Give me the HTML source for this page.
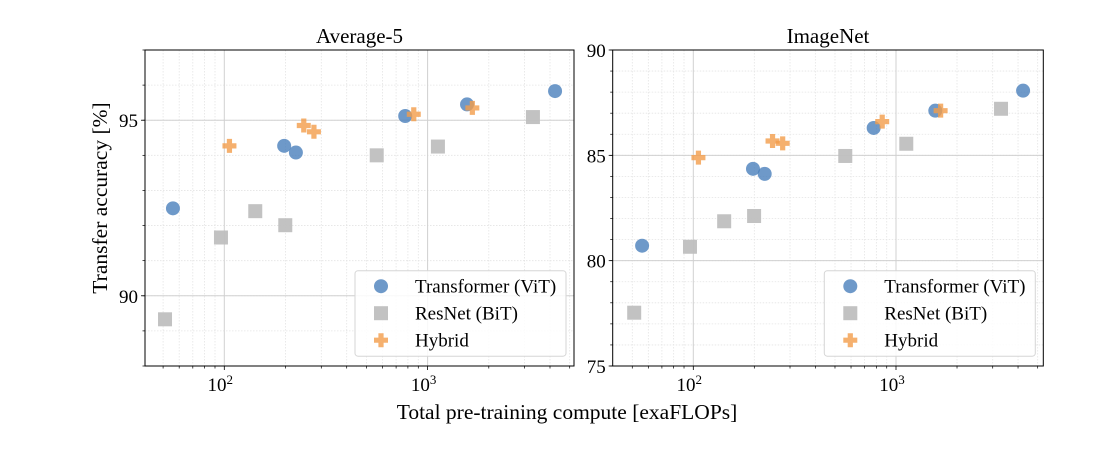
<!DOCTYPE html>
<html><head><meta charset="utf-8"><style>
body{margin:0;background:#fff}
svg{display:block;font-family:"Liberation Serif","DejaVu Serif",serif}
</style></head><body>
<svg id="c" width="1102" height="450" viewBox="0 0 1102 450"></svg>
<script>
const vitX=[55.9,197,225,776,1563,4236];
const vitAvg=[92.49,94.27,94.08,95.12,95.45,95.83];
const vitIN=[80.71,84.36,84.12,86.30,87.12,88.07];
const resX=[51.1,96.3,142,199.5,562,1124,3297];
const resAvg=[89.33,91.66,92.41,92.01,94.00,94.25,95.09];
const resIN=[77.53,80.66,81.87,82.12,84.97,85.55,87.21];
const hybX=[106,246,276,855,1660];
const hybAvg=[94.27,94.85,94.67,95.17,95.35];
const hybIN=[84.89,85.68,85.57,86.60,87.12];
const panelTitles=["Average-5","ImageNet"];
const avgTicks=[90,95];
const inTicks=[75,80,85,90];
const legendLabels=["Transformer (ViT)","ResNet (BiT)","Hybrid"];

const NS="http://www.w3.org/2000/svg";
const svg=document.getElementById('c');
function el(t,a,p){const e=document.createElementNS(NS,t);for(const k in a)e.setAttribute(k,a[k]);(p||svg).appendChild(e);return e;}
function txt(s,a,p){const e=el('text',a,p);e.textContent=s;return e;}

const panels=[
 {x0:145,x1:574,y0:50,y1:366,d2:224.3,dec:203.3,ymin:88,ymax:97,ticks:avgTicks,vit:vitAvg,res:resAvg,hyb:hybAvg,name:'average5'},
 {x0:612.7,x1:1043.3,y0:50,y1:366,d2:693.3,dec:202.7,ymin:75,ymax:90,ticks:inTicks,vit:vitIN,res:resIN,hyb:hybIN,name:'imagenet'}
];
const minorX=[50,60,70,80,90,200,300,400,500,600,700,800,900,2000,3000,4000,5000];
panels.forEach((P,pi)=>{
 const sx=v=>P.d2+P.dec*(Math.log10(v)-2);
 const sy=v=>P.y1-(v-P.ymin)/(P.ymax-P.ymin)*(P.y1-P.y0);
 const g=el('g',{});
 
 
 minorX.forEach(v=>{const x=sx(v);if(x>P.x0&&x<P.x1){el('line',{x1:x,x2:x,y1:P.y0,y2:P.y1,stroke:'#e4e4e4','stroke-width':0.8,'stroke-dasharray':'1.5,1.5'},g);el('line',{x1:x,x2:x,y1:P.y1,y2:P.y1+2.5,stroke:'#000','stroke-width':0.7},g);}});
 for(let v=Math.ceil(P.ymin);v<=P.ymax;v++){const y=sy(v);el('line',{x1:P.x0,x2:P.x1,y1:y,y2:y,stroke:'#e4e4e4','stroke-width':0.8,'stroke-dasharray':'1.5,1.5'},g);el('line',{x1:P.x0-2.5,x2:P.x0,y1:y,y2:y,stroke:'#000','stroke-width':0.7},g);}
 [100,1000].forEach((v,i)=>{const x=sx(v);el('line',{x1:x,x2:x,y1:P.y0,y2:P.y1,stroke:'#d0d0d0','stroke-width':1},g);el('line',{x1:x,x2:x,y1:P.y1,y2:P.y1+4,stroke:'#000','stroke-width':0.8},g);
  const t=txt('10',{x:x-4,y:P.y1+25,'font-size':19,'text-anchor':'middle'},g);const s=el('tspan',{dy:-7,'font-size':13},t);s.textContent=String(i+2);});
 P.ticks.forEach(v=>{const y=sy(v);if(v>P.ymin&&v<P.ymax)el('line',{x1:P.x0,x2:P.x1,y1:y,y2:y,stroke:'#d0d0d0','stroke-width':1},g);el('line',{x1:P.x0-4,x2:P.x0,y1:y,y2:y,stroke:'#000','stroke-width':0.8},g);
  txt(String(v),{x:P.x0-7,y:y+7,'font-size':19,'text-anchor':'end'},g);});
 el('rect',{x:P.x0,y:P.y0,width:P.x1-P.x0,height:P.y1-P.y0,fill:'none',stroke:'#000','stroke-width':1},g);
 const t=txt(panelTitles[pi],{x:(P.x0+P.x1)/2,y:43,'font-size':21,'text-anchor':'middle'},g);
 
 
 function circ(x,y,p){return el('circle',{cx:x,cy:y,r:7,fill:'#4a80bb','fill-opacity':0.8},p);}
 function sq(x,y,p){return el('rect',{x:x-7,y:y-7,width:14,height:14,fill:'#bfbfbf','fill-opacity':0.95},p);}
 function plus(x,y,p){return el('path',{d:`M${x-2.6} ${y-7}h5.2v4.4h4.4v5.2h-4.4v4.4h-5.2v-4.4h-4.4v-5.2h4.4z`,fill:'#f39c4a','fill-opacity':0.8},p);}
 resX.forEach((v,i)=>{const m=sq(sx(v),sy(P.res[i]),g);});
 vitX.forEach((v,i)=>{const m=circ(sx(v),sy(P.vit[i]),g);});
 hybX.forEach((v,i)=>{const m=plus(sx(v),sy(P.hyb[i]),g);});
 const lx=P.x1-219, ly=270.7;
 const lg=el('g',{},g);
 
 
 el('rect',{x:lx,y:ly,width:211,height:85.5,rx:3,fill:'#fff','fill-opacity':0.85,stroke:'#d6d6d6','stroke-width':1},lg);
 const mk=[circ,sq,plus];
 legendLabels.forEach((s,i)=>{const y=ly+15.5+i*27;mk[i](lx+26,y,lg);const e=txt(s,{x:lx+60,y:y+6.5,'font-size':19},lg);});
});
const yl=txt('Transfer accuracy [%]',{x:0,y:0,'font-size':21.5,'text-anchor':'middle',transform:'translate(107,198) rotate(-90)'});


const xl=txt('Total pre-training compute [exaFLOPs]',{x:567,y:419,'font-size':21.5,'text-anchor':'middle'});


</script>
</body></html>
